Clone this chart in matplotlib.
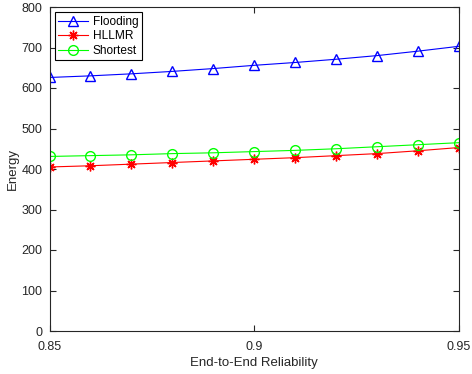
import numpy as np
import matplotlib
matplotlib.use("Agg")
import matplotlib.pyplot as plt

plt.rcParams['font.family'] = ['Liberation Sans', 'DejaVu Sans']

reliability = [0.85, 0.86, 0.87, 0.88, 0.89, 0.90, 0.91, 0.92, 0.93, 0.94, 0.95]
flooding = [626, 630, 635, 641, 648, 656, 663, 671, 680, 691, 703]
hllmr = [405, 408, 412, 416, 420, 424, 428, 433, 438, 445, 453]
shortest = [431, 433, 435, 438, 440, 443, 446, 450, 455, 460, 465]

fig = plt.figure(figsize=(4.72, 3.74), dpi=100)
ax = fig.add_axes([49.5/472, 1 - 331/374, (459-49.5)/472, (331-7)/374])

ax.plot(reliability, flooding, color='#0000ff', marker='^', markersize=7,
        markerfacecolor='none', markeredgewidth=1.0, linewidth=0.8, label='Flooding')
ax.plot(reliability, hllmr, color='#ff0000', marker=(8, 2, 0), markersize=7,
        markerfacecolor='none', markeredgewidth=1.0, linewidth=0.8, label='HLLMR')
ax.plot(reliability, shortest, color='#00ff00', marker='o', markersize=7,
        markerfacecolor='none', markeredgewidth=1.0, linewidth=0.8, label='Shortest')

ax.set_xlim(0.85, 0.95)
ax.set_ylim(0, 800)
ax.set_xticks([0.85, 0.9, 0.95])
ax.set_xticklabels(['0.85', '0.9', '0.95'])
ax.set_yticks(np.arange(0, 801, 100))

axc = '#262626'
for s in ax.spines.values():
    s.set_color(axc)
    s.set_linewidth(0.8)
ax.tick_params(direction='in', top=True, right=True, colors=axc,
               labelsize=9, length=4, width=0.8, labelcolor=axc)
ax.tick_params(axis='x', pad=7)
ax.tick_params(axis='y', pad=5)
ax.set_xlabel('End-to-End Reliability', fontsize=9.5, color=axc, labelpad=3)
ax.set_ylabel('Energy', fontsize=9.5, color=axc, labelpad=2)

leg = ax.legend(loc='upper left', fontsize=8.6, frameon=True, fancybox=False,
                edgecolor='black', framealpha=1, borderpad=0.3,
                handlelength=2.5, handletextpad=0.35, labelspacing=0.2,
                borderaxespad=0.45)
leg.get_frame().set_linewidth(0.8)

fig.savefig('out.png', dpi=100)
